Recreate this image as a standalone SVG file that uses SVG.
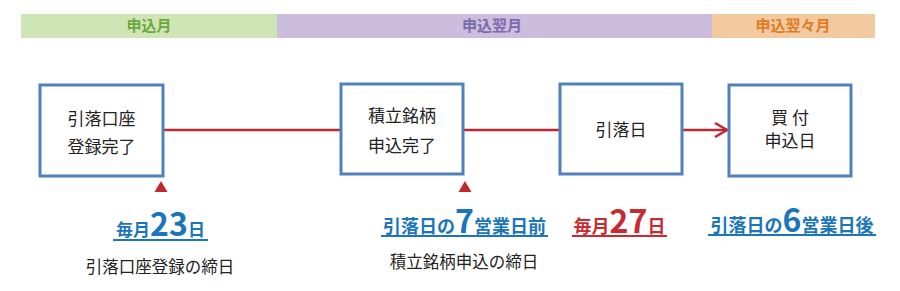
<svg xmlns="http://www.w3.org/2000/svg" width="900" height="291" viewBox="0 0 900 291">
<style>
text{font-family:"Noto Sans CJK JP","Noto Sans",sans-serif;}
.hd{font-size:15px;font-weight:bold;text-anchor:middle;}
.box{fill:#fff;stroke:#4f81bd;stroke-width:3;}
.bt{font-size:17px;fill:#222;text-anchor:middle;}
.conn{stroke:#c0282f;stroke-width:2.5;fill:none;}
.tri{fill:#c0282f;}
.lbl{font-weight:bold;text-anchor:middle;}
.big{font-size:32px;}
.desc{font-size:16.5px;fill:#222;text-anchor:middle;}
</style>
<g id="header">
<rect x="21" y="14" width="256" height="24" fill="#cfe5b5"/>
<rect x="277" y="14" width="435" height="24" fill="#cbbddb"/>
<rect x="712" y="14" width="163" height="24" fill="#f3c9a0"/>
<text class="hd" x="149" y="31" fill="#6aa83b">申込月</text>
<text class="hd" x="492" y="31" fill="#7a6aab">申込翌月</text>
<text class="hd" x="793" y="31" fill="#e07b28">申込翌々月</text>
</g>
<g id="connectors">
<line class="conn" x1="163" y1="130" x2="341" y2="130"/>
<line class="conn" x1="463" y1="130" x2="560" y2="130"/>
<line class="conn" x1="682" y1="130" x2="727" y2="130"/>
<polyline class="conn" points="715,123 727,130 715,137" stroke-width="3"/>
</g>
<g id="node1">
<rect class="box" x="40" y="85" width="123" height="91"/>
<text class="bt" x="101.5" y="125">引落口座</text>
<text class="bt" x="101.5" y="153">登録完了</text>
</g>
<g id="node2">
<rect class="box" x="341" y="84" width="122" height="90"/>
<text class="bt" x="402" y="122">積立銘柄</text>
<text class="bt" x="402" y="152">申込完了</text>
</g>
<g id="node3">
<rect class="box" x="560" y="84" width="122" height="90"/>
<text class="bt" x="621" y="136">引落日</text>
</g>
<g id="node4">
<rect class="box" x="729" y="85" width="122" height="91"/>
<text class="bt" x="790" y="124" font-size="16">買 付</text>
<text class="bt" x="790" y="147" font-size="16">申込日</text>
</g>
<g id="markers">
<polygon class="tri" points="161,181 167.5,192 154.5,192"/>
<polygon class="tri" points="465,181 471.5,192 458.5,192"/>
</g>
<g id="label1">
<text class="lbl" x="160.5" y="236" fill="#1a75bb"><tspan font-size="17">毎月</tspan><tspan class="big">23</tspan><tspan font-size="17">日</tspan></text>
<line x1="113" y1="240" x2="208" y2="240" stroke="#1a75bb" stroke-width="2"/>
<text class="desc" x="160" y="273">引落口座登録の締日</text>
</g>
<g id="label2">
<text class="lbl" x="464.5" y="233" fill="#1a75bb"><tspan font-size="18">引落日の</tspan><tspan class="big">7</tspan><tspan font-size="18">営業日前</tspan></text>
<line x1="381" y1="236" x2="548" y2="236" stroke="#1a75bb" stroke-width="2"/>
<text class="desc" x="464" y="268">積立銘柄申込の締日</text>
</g>
<g id="label3">
<text class="lbl" x="619.5" y="233" fill="#c62a32"><tspan font-size="18">毎月</tspan><tspan class="big">27</tspan><tspan font-size="18">日</tspan></text>
<line x1="572" y1="236" x2="667" y2="236" stroke="#c62a32" stroke-width="2"/>
</g>
<g id="label4">
<text class="lbl" x="792" y="232" fill="#1a75bb"><tspan font-size="18">引落日の</tspan><tspan class="big">6</tspan><tspan font-size="18">営業日後</tspan></text>
<line x1="708" y1="235" x2="876" y2="235" stroke="#1a75bb" stroke-width="2"/>
</g>
</svg>
